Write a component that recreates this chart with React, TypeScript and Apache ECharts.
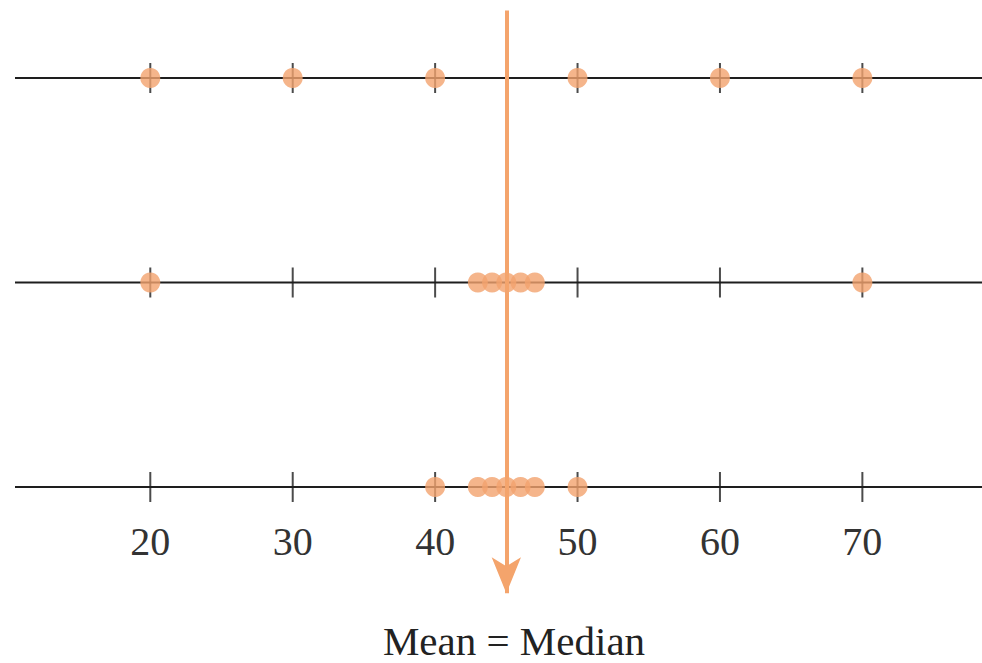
import React, { useEffect, useRef } from "react";
import * as echarts from "echarts";

const tickValues = [20, 30, 40, 50, 60, 70];
const rows = [0, 1, 2];
const row1Points = [20, 30, 40, 50, 60, 70];
const row2Points = [20, 43, 44, 45, 46, 47, 70];
const row3Points = [40, 43, 44, 45, 46, 47, 50];
const meanValue = 45;
const xMin = 10.5;
const xMax = 78.4;
const yMin = -0.34;
const yMax = 2.52;
const arrowLabel = "Mean = Median";

const dotColor = "#F2A26E";
const arrowColor = "#F4A46C";
const lineColor = "#1e1e1e";

export default function App() {
  const ref = useRef<HTMLDivElement>(null);
  useEffect(() => {
    if (!ref.current) return;
    const chart = echarts.init(ref.current, undefined, { renderer: "svg" });
    const lineSeries = rows.map((r) => ({
      type: "line",
      data: [
        [xMin, r],
        [xMax, r],
      ],
      symbol: "none",
      lineStyle: { color: lineColor, width: 2 },
      z: 1,
      silent: true,
    }));
    const tickData: number[][] = [];
    rows.forEach((r) => tickValues.forEach((v) => tickData.push([v, r])));
    const dotData: number[][] = [];
    row1Points.forEach((v) => dotData.push([v, 0]));
    row2Points.forEach((v) => dotData.push([v, 1]));
    row3Points.forEach((v) => dotData.push([v, 2]));
    chart.setOption({
      animation: false,
      grid: { left: 15, top: 8.5, width: 967, height: 584.8 },
      xAxis: {
        type: "value",
        min: xMin,
        max: xMax,
        offset: -106.3,
        axisLine: { show: false },
        axisTick: { show: false },
        splitLine: { show: false },
        axisLabel: {
          customValues: tickValues,
          margin: 34,
          fontFamily: "Liberation Serif, DejaVu Serif, serif",
          fontSize: 40,
          color: "#333",
        },
      },
      yAxis: {
        type: "value",
        min: yMin,
        max: yMax,
        inverse: true,
        show: false,
      },
      series: [
        ...lineSeries,
        {
          type: "scatter",
          data: tickData,
          symbol: "rect",
          symbolSize: [2, 30],
          itemStyle: { color: lineColor },
          z: 2,
          silent: true,
        },
        {
          type: "scatter",
          data: dotData,
          symbol: "circle",
          symbolSize: 20,
          itemStyle: { color: dotColor },
          z: 3,
          silent: true,
          clip: false,
          markLine: {
            silent: true,
            symbol: ["none", "arrow"],
            symbolSize: [22, 36],
            label: { show: false },
            lineStyle: { color: arrowColor, width: 4, type: "solid" },
            data: [
              [
                { coord: [meanValue, yMin + 0.01] },
                { coord: [meanValue, yMax] },
              ],
            ],
          },
        },
      ],
      graphic: [
        {
          type: "text",
          x: 514,
          y: 641,
          style: {
            text: arrowLabel,
            align: "center",
            verticalAlign: "middle",
            font: "41px 'Liberation Serif', 'DejaVu Serif', serif",
            fill: "#222",
          },
        },
      ],
    });
    return () => chart.dispose();
  }, []);
  return (
    <div
      ref={ref}
      style={{ position: "fixed", left: 0, top: 0, width: 982, height: 663, background: "#fff" }}
    />
  );
}
